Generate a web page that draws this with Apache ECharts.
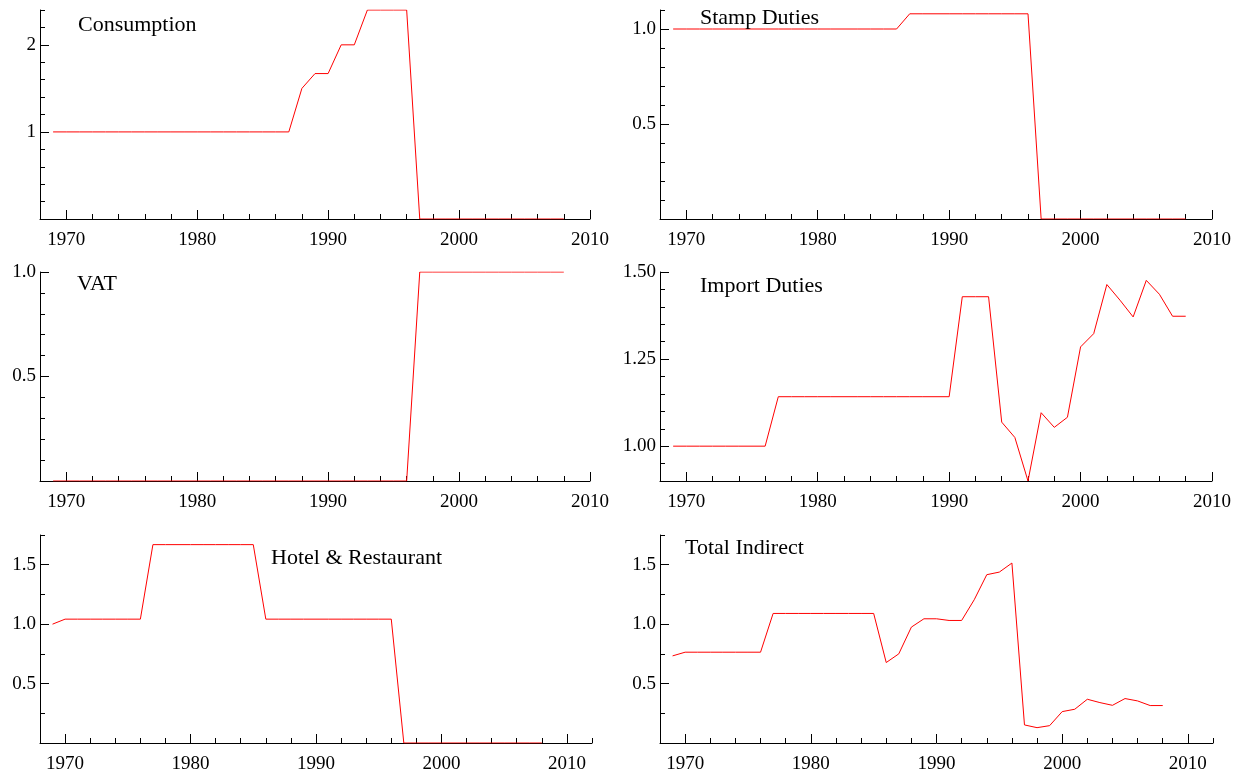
<!DOCTYPE html>
<html>
<head>
<meta charset="utf-8">
<script src="https://cdn.jsdelivr.net/npm/echarts@6/dist/echarts.min.js"></script>
<style>
  html, body { margin: 0; padding: 0; background: #fff; }
  #chart { width: 1238px; height: 777px; }
</style>
</head>
<body>
<div id="chart"></div>
<script>
// Indirect tax series, 1969-2008
const years = [1969, 1970, 1971, 1972, 1973, 1974, 1975, 1976, 1977, 1978,
               1979, 1980, 1981, 1982, 1983, 1984, 1985, 1986, 1987, 1988,
               1989, 1990, 1991, 1992, 1993, 1994, 1995, 1996, 1997, 1998,
               1999, 2000, 2001, 2002, 2003, 2004, 2005, 2006, 2007, 2008];

const consumption = [1, 1, 1, 1, 1, 1, 1, 1, 1, 1,
                     1, 1, 1, 1, 1, 1, 1, 1, 1, 1.5,
                     1.67, 1.67, 2.0, 2.0, 2.4, 2.4, 2.4, 2.4, 0, 0,
                     0, 0, 0, 0, 0, 0, 0, 0, 0, 0];

const stampDuties = [1, 1, 1, 1, 1, 1, 1, 1, 1, 1,
                     1, 1, 1, 1, 1, 1, 1, 1, 1.08, 1.08,
                     1.08, 1.08, 1.08, 1.08, 1.08, 1.08, 1.08, 1.08, 0, 0,
                     0, 0, 0, 0, 0, 0, 0, 0, 0, 0];

const vat = [0, 0, 0, 0, 0, 0, 0, 0, 0, 0,
             0, 0, 0, 0, 0, 0, 0, 0, 0, 0,
             0, 0, 0, 0, 0, 0, 0, 0, 1, 1,
             1, 1, 1, 1, 1, 1, 1, 1, 1, 1];

const importDuties = [1, 1, 1, 1, 1, 1, 1, 1, 1.142, 1.142,
                      1.142, 1.142, 1.142, 1.142, 1.142, 1.142, 1.142, 1.142, 1.142, 1.142,
                      1.142, 1.142, 1.429, 1.429, 1.429, 1.069, 1.025, 0.9, 1.096, 1.054,
                      1.083, 1.285, 1.323, 1.464, 1.419, 1.371, 1.476, 1.436, 1.373, 1.373];

const hotelRestaurant = [1.0, 1.042, 1.042, 1.042, 1.042, 1.042, 1.042, 1.042, 1.669, 1.669,
                         1.669, 1.669, 1.669, 1.669, 1.669, 1.669, 1.669, 1.042, 1.042, 1.042,
                         1.042, 1.042, 1.042, 1.042, 1.042, 1.042, 1.042, 1.042, 0, 0,
                         0, 0, 0, 0, 0, 0, 0, 0, 0, 0];

const totalIndirect = [0.733, 0.764, 0.764, 0.764, 0.764, 0.764, 0.764, 0.764, 1.090, 1.090,
                       1.090, 1.090, 1.090, 1.090, 1.090, 1.090, 1.090, 0.677, 0.750, 0.975,
                       1.045, 1.045, 1.031, 1.031, 1.205, 1.416, 1.438, 1.514, 0.152, 0.129,
                       0.146, 0.264, 0.284, 0.368, 0.340, 0.317, 0.374, 0.354, 0.315, 0.315];

// tick labels
const xLabels = [1970, 1980, 1990, 2000, 2010];
const yLabelsConsumption = [1, 2];
const yLabelsStamp = [0.5, 1.0];
const yLabelsVat = [0.5, 1.0];
const yLabelsImport = [1.00, 1.25, 1.50];
const yLabelsHotel = [0.5, 1.0, 1.5];
const yLabelsTotal = [0.5, 1.0, 1.5];

function range(a, b, step) {
    const out = [];
    const n = Math.round((b - a) / step);
    for (let i = 0; i <= n; i++) out.push(+(a + i * step).toFixed(4));
    return out;
}

// panel setup: grid box, axis extents, minor tick steps
const panels = [
    { name: 'Consumption', data: consumption, box: [40, 10, 550, 209], xMax: 2010,
      yMin: 0, yMax: 2.4, yLabels: yLabelsConsumption, yMinor: 0.2, dec: 0, title: [78, 14] },
    { name: 'Stamp Duties', data: stampDuties, box: [660, 10, 552, 209], xMax: 2010,
      yMin: 0, yMax: 1.1, yLabels: yLabelsStamp, yMinor: 0.1, dec: 1, title: [700, 7] },
    { name: 'VAT', data: vat, box: [40, 272, 550, 209], xMax: 2010,
      yMin: 0, yMax: 1.0, yLabels: yLabelsVat, yMinor: 0.1, dec: 1, title: [77, 273] },
    { name: 'Import Duties', data: importDuties, box: [660, 272, 552, 209], xMax: 2010,
      yMin: 0.9, yMax: 1.5, yLabels: yLabelsImport, yMinor: 0.05, dec: 2, title: [700, 275] },
    { name: 'Hotel & Restaurant', data: hotelRestaurant, box: [40, 535, 552, 208], xMax: 2012,
      yMin: 0, yMax: 1.75, yLabels: yLabelsHotel, yMinor: 0.25, dec: 1, title: [271, 547] },
    { name: 'Total Indirect', data: totalIndirect, box: [660, 535, 553, 208], xMax: 2012,
      yMin: 0, yMax: 1.75, yLabels: yLabelsTotal, yMinor: 0.25, dec: 1, title: [685, 537] }
];

const font = 'Liberation Serif';
const axisLine = { show: true, onZero: false, lineStyle: { color: '#000', width: 1 } };

const grid = [], xAxis = [], yAxis = [], series = [], title = [];

panels.forEach((p, i) => {
    grid.push({ left: p.box[0], top: p.box[1], width: p.box[2], height: p.box[3] });
    const xMinor = range(1968, p.xMax, 2);
    const yMinor = range(p.yMin, p.yMax, p.yMinor);
    // major x axis with labels
    xAxis.push({
        type: 'value', gridIndex: i, min: 1968, max: p.xMax,
        axisLine: axisLine, splitLine: { show: false },
        axisTick: { inside: true, length: 9, customValues: xLabels, lineStyle: { color: '#000' } },
        axisLabel: {
            customValues: xLabels, color: '#000', fontFamily: font, fontSize: 19, margin: 12,
            formatter: v => String(v)
        }
    });
    // minor x ticks
    xAxis.push({
        type: 'value', gridIndex: i, min: 1968, max: p.xMax, position: 'bottom',
        axisLine: { show: false }, splitLine: { show: false }, axisLabel: { show: false },
        axisTick: { inside: true, length: 5, customValues: xMinor, lineStyle: { color: '#000' } }
    });
    yAxis.push({
        type: 'value', gridIndex: i, min: p.yMin, max: p.yMax,
        axisLine: axisLine, splitLine: { show: false },
        axisTick: { inside: true, length: 9, customValues: p.yLabels, lineStyle: { color: '#000' } },
        axisLabel: {
            customValues: p.yLabels, color: '#000', fontFamily: font, fontSize: 19, margin: 4,
            formatter: v => v.toFixed(p.dec)
        }
    });
    yAxis.push({
        type: 'value', gridIndex: i, min: p.yMin, max: p.yMax, position: 'left',
        axisLine: { show: false }, splitLine: { show: false }, axisLabel: { show: false },
        axisTick: { inside: true, length: 5, customValues: yMinor, lineStyle: { color: '#000' } }
    });
    series.push({
        name: p.name, type: 'line', xAxisIndex: i * 2, yAxisIndex: i * 2,
        data: years.map((y, k) => [y, p.data[k]]),
        showSymbol: false, symbol: 'none', z: 5,
        lineStyle: { color: '#ff0000', width: 1 }
    });
    title.push({
        text: p.name, left: p.title[0], top: p.title[1], padding: 0,
        textStyle: { fontFamily: font, fontSize: 22, fontWeight: 'normal', color: '#000' }
    });
});

const chart = echarts.init(document.getElementById('chart'));
chart.setOption({
    backgroundColor: '#fff',
    animation: false,
    title: title,
    grid: grid,
    xAxis: xAxis,
    yAxis: yAxis,
    series: series
});
</script>
</body>
</html>
